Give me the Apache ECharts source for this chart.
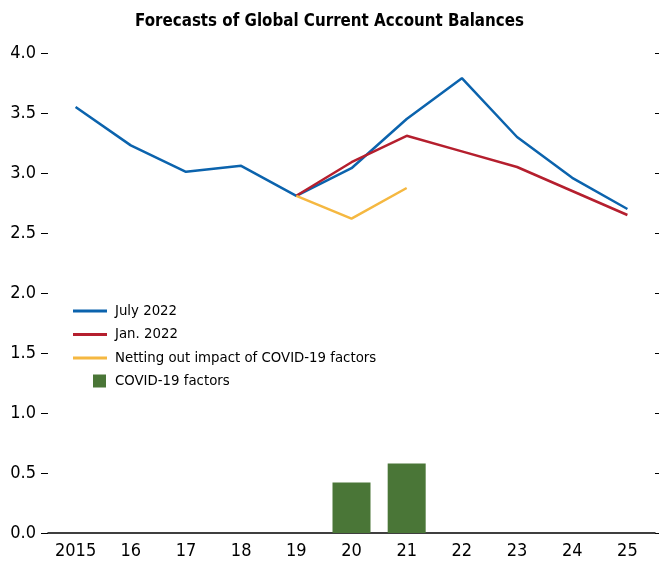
<!DOCTYPE html>
<html>
<head>
<meta charset="utf-8">
<script src="https://cdn.jsdelivr.net/npm/echarts@6/dist/echarts.min.js"></script>
<style>
  html, body { margin: 0; padding: 0; background: #fff; }
  #chart { width: 659px; height: 566px; }
</style>
</head>
<body>
<div id="chart"></div>
<script>
const years = ['2015', '16', '17', '18', '19', '20', '21', '22', '23', '24', '25'];
const july2022 = [3.55, 3.23, 3.01, 3.06, 2.81, 3.04, 3.45, 3.79, 3.30, 2.96, 2.70];
const jan2022 = [null, null, null, null, 2.81, 3.09, 3.31, 3.18, 3.05, 2.85, 2.65];
const netting = [null, null, null, null, 2.81, 2.62, 2.875, null, null, null, null];
const covid = [null, null, null, null, null, 0.42, 0.58, null, null, null, null];
const yTicks = ['0.0', '0.5', '1.0', '1.5', '2.0', '2.5', '3.0', '3.5', '4.0'];

const font = '"DejaVu Sans Condensed", Roboto, sans-serif';

let myChart = echarts.init(document.getElementById('chart'));

let option = {
    animation: false,
    title: {
        text: 'Forecasts of Global Current Account Balances',
        left: 'center',
        top: 8,
        textStyle: { fontFamily: font, fontSize: 16.8, fontWeight: 'bold', color: '#000' }
    },
    grid: { left: 48, right: 4, top: 53, bottom: 33 },
    legend: [
        {
            orient: 'vertical',
            left: 73,
            top: 301,
            padding: 0,
            itemWidth: 34,
            itemHeight: 3,
            itemGap: 3.5,
            textStyle: { fontFamily: font, fontSize: 14.8, lineHeight: 20, color: '#000', padding: [0, 0, 0, 3] },
            data: [
                { name: 'July 2022', icon: 'rect' },
                { name: 'Jan. 2022', icon: 'rect' },
                { name: 'Netting out impact of COVID-19 factors', icon: 'rect' }
            ]
        },
        {
            orient: 'vertical',
            left: 93,
            top: 371,
            padding: 0,
            itemWidth: 13,
            itemHeight: 13,
            textStyle: { fontFamily: font, fontSize: 14.8, lineHeight: 20, color: '#000', padding: [0, 0, 0, 4] },
            data: [{ name: 'COVID-19 factors', icon: 'rect' }]
        }
    ],
    xAxis: {
        type: 'category',
        data: years,
        axisLine: { lineStyle: { color: '#000', width: 1.5 } },
        axisTick: { inside: true, length: 6, lineStyle: { color: '#000', width: 1.5 } },
        axisLabel: { fontFamily: font, fontSize: 18, color: '#000', margin: 9 }
    },
    yAxis: [
        {
            type: 'value',
            min: 0,
            max: 4,
            interval: 0.5,
            splitLine: { show: false },
            axisLine: { show: false },
            axisTick: { show: true, length: 7, lineStyle: { color: '#000', width: 1 } },
            axisLabel: {
                fontFamily: font, fontSize: 18, color: '#000', margin: 12,
                formatter: (v) => yTicks[Math.round(v / 0.5)]
            }
        },
        {
            type: 'value',
            position: 'right',
            min: 0,
            max: 4,
            interval: 0.5,
            splitLine: { show: false },
            axisLine: { show: false },
            axisTick: { show: true, length: 7, lineStyle: { color: '#000', width: 1 } },
            axisLabel: { show: false }
        }
    ],
    series: [
        {
            name: 'COVID-19 factors',
            type: 'bar',
            data: covid,
            barWidth: 38,
            itemStyle: { color: '#4a7637' }
        },
        {
            name: 'July 2022',
            type: 'line',
            data: july2022,
            symbol: 'none',
            lineStyle: { color: '#0b63ad', width: 2.5 },
            itemStyle: { color: '#0b63ad' }
        },
        {
            name: 'Jan. 2022',
            type: 'line',
            data: jan2022,
            symbol: 'none',
            lineStyle: { color: '#b51f2e', width: 2.5 },
            itemStyle: { color: '#b51f2e' }
        },
        {
            name: 'Netting out impact of COVID-19 factors',
            type: 'line',
            data: netting,
            symbol: 'none',
            lineStyle: { color: '#f5b841', width: 2.5 },
            itemStyle: { color: '#f5b841' }
        }
    ]
};
option && myChart.setOption(option);
</script>
</body>
</html>
